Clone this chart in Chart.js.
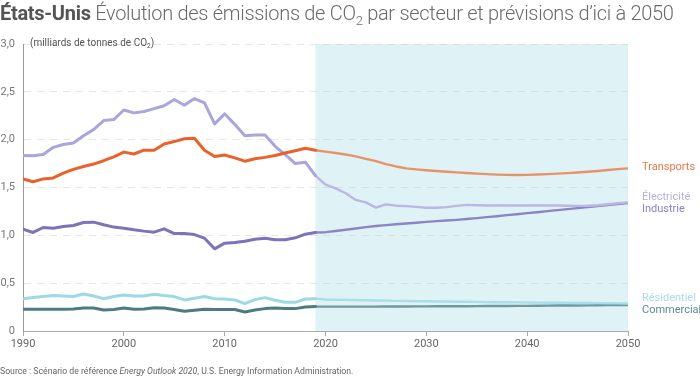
<!DOCTYPE html>
<html>
<head>
<meta charset="utf-8">
<script src="https://cdn.jsdelivr.net/npm/chart.js@4.4.1/dist/chart.umd.min.js"></script>
<style>
  body { margin: 0; background: #fff; font-family: Roboto, "Noto Sans", sans-serif; }
  #wrap { position: relative; width: 700px; height: 377px; overflow: hidden; }
  canvas { position: absolute; left: 0; top: 0; }
  .title { position: absolute; left: 0; top: 1px; font-size: 20px; color: #6a6a6a; white-space: nowrap; font-weight: 300; letter-spacing: -0.3px; }
  .title b { font-weight: 700; color: #555; }
  .title sub, .unit sub { font-size: 65%; vertical-align: -0.35em; line-height: 0; }
  .unit { position: absolute; left: 30px; top: 37px; font-size: 10px; color: #555; white-space: nowrap; }
  .source { position: absolute; left: 0; top: 366px; font-size: 8.7px; color: #666; white-space: nowrap; }
</style>
</head>
<body>
<div id="wrap">
  <canvas id="co2Chart" width="700" height="377"></canvas>
  <div class="title"><b>États-Unis</b> Évolution des émissions de CO<sub>2</sub> par secteur et prévisions d’ici à 2050</div>
  <div class="unit">(milliards de tonnes de CO<sub>2</sub>)</div>
  <div class="source">Source : Scénario de référence <i>Energy Outlook 2020</i>, U.S. Energy Information Administration.</div>
</div>
<script>
// années historiques 1990-2019, prévisions 2019-2050
var histYears = [];
for (var y = 1990; y <= 2019; y++) histYears.push(y);
var forecastYears = [];
for (var y2 = 2019; y2 <= 2050; y2++) forecastYears.push(y2);

var xTicks = [1990, 2000, 2010, 2020, 2030, 2040, 2050];
var yTicks = [0, 0.5, 1, 1.5, 2, 2.5, 3];

var transportsHist = [1.59, 1.56, 1.59, 1.60, 1.65, 1.69, 1.72, 1.745, 1.78, 1.82, 1.87, 1.85, 1.89, 1.89, 1.955, 1.98, 2.01, 2.015, 1.89, 1.825,
                      1.84, 1.81, 1.775, 1.80, 1.815, 1.835, 1.86, 1.885, 1.91, 1.89];
var transportsProj = [1.89, 1.875, 1.86, 1.845, 1.825, 1.80, 1.775, 1.745, 1.72, 1.70, 1.69, 1.68, 1.672, 1.665, 1.658, 1.651, 1.645, 1.64, 1.635, 1.632,
                      1.63, 1.632, 1.636, 1.64, 1.645, 1.65, 1.657, 1.665, 1.673, 1.683, 1.692, 1.70];

var electriciteHist = [1.835, 1.833, 1.846, 1.92, 1.95, 1.965, 2.04, 2.105, 2.20, 2.21, 2.31, 2.28, 2.295, 2.325, 2.355, 2.42, 2.36, 2.43, 2.385, 2.165,
                       2.27, 2.16, 2.04, 2.05, 2.05, 1.93, 1.845, 1.75, 1.765, 1.625];
var electriciteProj = [1.625, 1.53, 1.49, 1.44, 1.37, 1.345, 1.29, 1.323, 1.31, 1.305, 1.298, 1.288, 1.288, 1.295, 1.308, 1.318, 1.315, 1.312, 1.312, 1.312,
                       1.312, 1.312, 1.312, 1.312, 1.312, 1.31, 1.308, 1.31, 1.315, 1.325, 1.335, 1.345];

var industrieHist = [1.065, 1.03, 1.082, 1.075, 1.092, 1.103, 1.134, 1.138, 1.11, 1.086, 1.075, 1.058, 1.044, 1.033, 1.068, 1.019, 1.019, 1.008, 0.97, 0.859,
                     0.918, 0.925, 0.939, 0.96, 0.97, 0.953, 0.953, 0.974, 1.012, 1.03];
var industrieProj = [1.03, 1.033, 1.045, 1.058, 1.072, 1.086, 1.097, 1.107, 1.116, 1.124, 1.132, 1.141, 1.148, 1.155, 1.162, 1.17, 1.18, 1.19, 1.20, 1.211,
                     1.221, 1.232, 1.242, 1.253, 1.263, 1.274, 1.284, 1.295, 1.305, 1.316, 1.326, 1.337];

var residentielHist = [0.338, 0.349, 0.36, 0.37, 0.366, 0.36, 0.387, 0.366, 0.338, 0.36, 0.377, 0.366, 0.366, 0.384, 0.37, 0.36, 0.325, 0.342, 0.36, 0.338,
                       0.335, 0.325, 0.286, 0.328, 0.349, 0.321, 0.30, 0.30, 0.335, 0.338];
var residentielProj = [0.338, 0.330, 0.327, 0.325, 0.323, 0.321, 0.319, 0.317, 0.315, 0.314, 0.312, 0.311, 0.309, 0.308, 0.306, 0.305, 0.304, 0.302, 0.301, 0.300,
                       0.299, 0.298, 0.297, 0.296, 0.295, 0.294, 0.293, 0.292, 0.291, 0.290, 0.289, 0.288];

var commercialHist = [0.227, 0.227, 0.227, 0.227, 0.227, 0.229, 0.241, 0.241, 0.22, 0.224, 0.241, 0.227, 0.231, 0.244, 0.241, 0.224, 0.206, 0.217, 0.227, 0.224,
                      0.224, 0.224, 0.199, 0.22, 0.234, 0.241, 0.234, 0.234, 0.251, 0.255];
var commercialProj = [0.255, 0.255, 0.255, 0.255, 0.255, 0.255, 0.255, 0.256, 0.256, 0.256, 0.257, 0.257, 0.258, 0.258, 0.259, 0.259, 0.260, 0.261, 0.261, 0.262,
                      0.263, 0.263, 0.264, 0.265, 0.266, 0.266, 0.267, 0.268, 0.269, 0.270, 0.271, 0.272];

var sectors = [
  { name: 'Transports',  hist: transportsHist,  proj: transportsProj,  c: '#e8622b', cp: '#e8926a', lc: '#e8764c', dy: -1 },
  { name: 'Électricité', hist: electriciteHist, proj: electriciteProj, c: '#aaa5dc', cp: '#bab7e3', lc: '#b6b1de', dy: -5 },
  { name: 'Industrie',   hist: industrieHist,   proj: industrieProj,   c: '#7d73b9', cp: '#8c85c4', lc: '#8a81c1', dy: 6 },
  { name: 'Résidentiel', hist: residentielHist, proj: residentielProj, c: '#9dd8e5', cp: '#a9dde7', lc: '#a6dce7', dy: -5 },
  { name: 'Commercial',  hist: commercialHist,  proj: commercialProj,  c: '#4d7c80', cp: '#6f999c', lc: '#5b8a8d', dy: 5 }
];

function pts(xs, vs) { return xs.map(function (x, i) { return { x: x, y: vs[i] }; }); }

var datasets = [];
sectors.forEach(function (s) {
  datasets.push({ label: s.name, data: pts(histYears, s.hist), borderColor: s.c, borderWidth: 3 });
  datasets.push({ label: s.name + ' (prévision)', data: pts(forecastYears, s.proj), borderColor: s.cp, borderWidth: 2.4 });
});

var forecastBand = {
  id: 'forecastBand',
  beforeDraw: function (chart) {
    var x = chart.scales.x, yS = chart.scales.y, ctx = chart.ctx;
    var x0 = x.getPixelForValue(2019), x1 = x.getPixelForValue(2050);
    var top = yS.getPixelForValue(3), bot = yS.getPixelForValue(0);
    ctx.save();
    ctx.fillStyle = '#dff2f5';
    ctx.fillRect(x0, top, x1 - x0, bot - top);
    ctx.restore();
  }
};

var endLabels = {
  id: 'endLabels',
  afterDatasetsDraw: function (chart) {
    var yS = chart.scales.y, ctx = chart.ctx;
    ctx.save();
    ctx.font = '11px Roboto, sans-serif';
    ctx.textBaseline = 'middle';
    sectors.forEach(function (s) {
      ctx.fillStyle = s.lc;
      ctx.fillText(s.name, 642, yS.getPixelForValue(s.proj[s.proj.length - 1]) + s.dy);
    });
    ctx.restore();
  }
};

new Chart(document.getElementById('co2Chart').getContext('2d'), {
  type: 'line',
  data: { datasets: datasets },
  options: {
    responsive: false,
    animation: false,
    layout: { padding: { top: 44, right: 72, bottom: 25, left: 0 } },
    elements: { point: { radius: 0 }, line: { tension: 0, borderJoinStyle: 'round', borderCapStyle: 'round' } },
    plugins: { legend: { display: false }, tooltip: { enabled: false } },
    scales: {
      x: {
        type: 'linear', min: 1990, max: 2050,
        afterBuildTicks: function (sc) { sc.ticks = xTicks.map(function (v) { return { value: v }; }); },
        afterFit: function (sc) { sc.height = 21; },
        ticks: { color: '#666', font: { size: 11, family: 'Roboto' }, padding: 2, maxRotation: 0,
                 callback: function (v) { return String(v); } },
        grid: { drawOnChartArea: false, drawTicks: true, tickLength: 5, color: '#aaa' },
        border: { color: '#aaa', width: 1 }
      },
      y: {
        min: 0, max: 3,
        afterBuildTicks: function (sc) { sc.ticks = yTicks.map(function (v) { return { value: v }; }); },
        afterFit: function (sc) { sc.width = 23; },
        ticks: { color: '#777', font: { size: 11, family: 'Roboto' }, padding: 8,
                 callback: function (v) { return v === 0 ? '0' : v.toFixed(1).replace('.', ','); } },
        grid: { color: 'rgba(205,205,205,0.5)', drawTicks: false },
        border: { color: '#999', width: 1, dash: [7, 6] }
      }
    }
  },
  plugins: [forecastBand, endLabels]
});
</script>
</body>
</html>
